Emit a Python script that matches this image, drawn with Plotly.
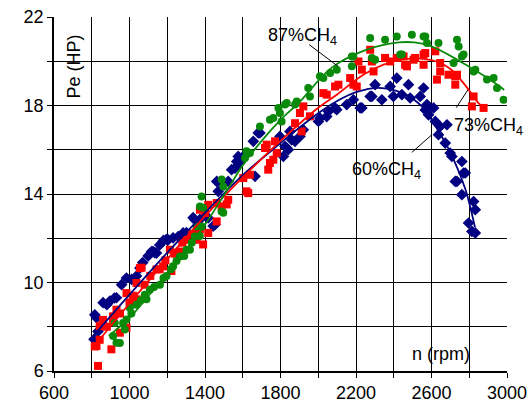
import plotly.graph_objects as go

# ---- data ----
blue_x = [812, 825, 816, 833, 860, 880, 896, 920, 931, 958, 984, 1011, 1037, 1055, 1070, 1099, 1117, 1134, 1143,
          1125, 1160, 1180, 1196, 1205, 1231, 1258, 1284, 1302, 1320, 1337, 1355, 1373, 1346, 1364, 1417, 1443,
          1453, 1462, 1470, 1488, 1523, 1541, 1559, 1568, 1576, 1585, 1603, 1656, 1665, 1682, 1691,
          1797, 1815, 1824, 1833, 1841, 1850, 1859, 1877, 1903, 1921, 2001, 2009, 2045, 2054, 2089,
          2098, 2151, 2186, 2222, 2231, 2275, 2284, 2301, 2337, 2381, 2398, 2416, 2443, 2478, 2487,
          2540, 2558, 2567, 2576, 2584, 2611, 2620, 2637, 2646, 2673, 2682, 2699, 2708, 2726, 2735,
          2761, 2761, 2770, 2779, 2796, 2814, 2823, 2832, 2832]
blue_y = [7.43, 8.41, 8.54, 7.79, 9.09, 9.00, 9.16, 9.30, 9.31, 9.90, 10.20, 10.14, 10.29, 10.65, 10.90, 11.20, 11.40, 11.35, 11.33,
          11.40, 11.70, 11.90, 11.95, 11.93, 12.02, 12.08, 12.24, 12.25, 12.16, 12.93, 12.31, 12.85, 12.84, 12.39, 12.92, 12.55,
          12.61, 14.57, 14.12, 14.50, 14.57, 15.10, 15.17, 15.47, 15.70, 15.40, 15.70, 16.38, 14.80, 16.76, 16.76,
          16.60, 15.70, 16.15, 16.08, 16.00, 16.83, 16.45, 16.38, 16.60, 16.90, 17.28, 17.43, 17.50, 17.73, 17.89,
          17.81, 18.04, 18.26, 17.89, 17.89, 18.41, 18.41, 18.94, 18.26, 18.86, 18.41, 19.24, 18.49, 18.94, 18.34,
          18.41, 18.79, 17.80, 18.04, 17.58, 17.89, 17.28, 16.68, 17.05, 16.30, 17.13, 15.85, 15.70, 14.57, 14.57,
          15.47, 13.97, 14.95, 14.95, 12.69, 12.31, 13.66, 13.29, 12.24]

red_x = [816, 825, 833, 842, 842, 860, 880, 904, 913, 913, 931, 949, 950, 984, 984, 1000, 1020, 1037, 1037, 1055,
         1064, 1080, 1110, 1143, 1160, 1178, 1190, 1214, 1222, 1240, 1249, 1267, 1280, 1302, 1330, 1355, 1373, 1373,
         1390, 1400, 1417, 1417, 1462, 1462, 1488, 1515, 1523, 1603, 1620, 1629, 1638, 1718, 1727, 1735, 1744, 1762,
         1771, 1780, 1877, 1903, 1912, 1921, 1956, 2027, 2045, 2089, 2107, 2169, 2186, 2204, 2213, 2231, 2275,
         2284, 2293, 2354, 2381, 2416, 2452, 2460, 2470, 2505, 2513, 2558, 2558, 2567, 2620, 2629,
         2646, 2646, 2690, 2726, 2726, 2735, 2814, 2823, 2876]
red_y = [7.11, 7.13, 6.23, 7.41, 8.03, 8.31, 8.00, 6.98, 8.47, 8.33, 8.77, 7.73, 8.60, 7.96, 9.52, 9.10, 9.40, 9.24, 9.98, 10.65,
         10.67, 9.90, 10.30, 10.59, 10.60, 10.73, 11.00, 11.48, 10.52, 11.30, 11.35, 11.40, 11.80, 11.93, 12.20, 11.93, 12.40, 13.29,
         11.72, 13.14, 13.51, 12.24, 13.59, 12.76, 13.44, 13.53, 13.74, 14.72, 14.12, 14.04, 14.87, 16.08, 16.23, 15.10, 15.40, 15.55,
         16.38, 15.85, 17.20, 17.66, 16.83, 17.96, 17.51, 18.56, 18.49, 18.86, 18.94, 19.24, 18.94, 18.86, 19.99, 19.62, 20.52,
         19.99, 19.54, 20.15, 19.99, 20.15, 20.22, 19.84, 19.77, 20.07, 20.15, 20.30, 19.84, 20.37, 20.45, 19.17,
         19.54, 19.92, 19.39, 19.32, 18.94, 19.39, 17.96, 18.41, 17.89]

green_x = [913, 922, 931, 949, 966, 975, 984, 1002, 1010, 1037, 1060, 1081, 1090, 1108, 1130, 1161, 1180, 1196,
           1220, 1231, 1249, 1267, 1290, 1302, 1320, 1330, 1346, 1355, 1373, 1373, 1382, 1382, 1390, 1488, 1488,
           1497, 1497, 1612, 1620, 1638, 1691, 1744, 1762, 1789, 1797, 1806, 1824, 1833, 1877, 1886, 1947, 1956, 2009,
           2027, 2063, 2098, 2178, 2178, 2186, 2275, 2284, 2301, 2354, 2416, 2434, 2443, 2496, 2558,
           2567, 2576, 2637, 2717, 2735, 2744, 2761, 2770, 2823, 2832, 2894, 2929, 2947, 2982]
green_y = [7.58, 8.17, 7.28, 7.26, 8.17, 7.88, 8.33, 8.85, 8.60, 9.00, 9.20, 9.45, 9.24, 9.67, 9.80, 9.90, 10.20, 10.29,
           10.60, 10.73, 10.97, 11.18, 11.20, 11.48, 11.48, 11.80, 12.08, 12.53, 12.10, 13.44, 13.89, 12.53, 13.38, 13.21, 14.65,
           14.34, 13.15, 15.63, 15.93, 15.85, 17.05, 17.36, 17.43, 17.89, 17.66, 17.28, 18.04, 18.11, 18.04, 18.18, 18.79, 18.41, 19.32,
           19.24, 19.47, 19.62, 20.22, 19.77, 20.22, 21.05, 20.15, 20.07, 20.97, 21.12, 20.30, 20.30, 21.20, 21.12,
           21.12, 20.82, 20.82, 19.92, 20.97, 20.67, 20.22, 20.30, 19.54, 19.62, 19.17, 19.24, 18.79, 18.26]

# fitted curves
blue_fit_x = [810, 1000, 1200, 1400, 1600, 1800, 1900, 2000, 2100, 2200, 2320, 2450, 2550, 2640, 2710, 2780, 2830]
blue_fit_y = [7.6, 9.45, 11.35, 13.15, 14.85, 16.3, 17.0, 17.65, 18.2, 18.6, 18.8, 18.55, 17.95, 16.8, 15.7, 14.2, 12.5]
red_fit_x = [830, 1000, 1200, 1400, 1600, 1800, 2000, 2100, 2250, 2425, 2600, 2700, 2780, 2850, 2885]
red_fit_y = [7.3, 9.05, 11.05, 13.0, 14.75, 16.4, 17.9, 18.5, 19.45, 20.05, 20.05, 19.65, 18.9, 18.1, 17.85]
green_fit_x = [890, 1000, 1200, 1390, 1530, 1600, 1700, 1800, 1900, 2070, 2250, 2425, 2510, 2600, 2780, 2955, 2985]
green_fit_y = [7.6, 8.4, 10.45, 12.5, 14.35, 15.3, 16.4, 17.35, 18.15, 19.7, 20.5, 20.85, 20.85, 20.67, 19.85, 18.9, 18.7]

x_ticks = [600, 800, 1000, 1200, 1400, 1600, 1800, 2000, 2200, 2400, 2600, 2800, 3000]
x_labels = ["600", "", "1000", "", "1400", "", "1800", "", "2200", "", "2600", "", "3000"]
y_ticks = [6, 8, 10, 12, 14, 16, 18, 20, 22]
y_labels = ["6", "", "10", "", "14", "", "18", "", "22"]

BLUE = "#000080"
RED = "#FF0000"
GREEN = "#0A8A0A"

fig = go.Figure()
fig.add_trace(go.Scatter(x=blue_x, y=blue_y, mode="markers",
                         marker=dict(symbol="diamond", size=9, color=BLUE), showlegend=False))
fig.add_trace(go.Scatter(x=red_x, y=red_y, mode="markers",
                         marker=dict(symbol="square", size=8, color=RED), showlegend=False))
fig.add_trace(go.Scatter(x=green_x, y=green_y, mode="markers",
                         marker=dict(symbol="circle", size=8, color=GREEN), showlegend=False))
fig.add_trace(go.Scatter(x=blue_fit_x, y=blue_fit_y, mode="lines", line_shape="spline",
                         line=dict(color=BLUE, width=1.8), showlegend=False))
fig.add_trace(go.Scatter(x=red_fit_x, y=red_fit_y, mode="lines", line_shape="spline",
                         line=dict(color=RED, width=1.8), showlegend=False))
fig.add_trace(go.Scatter(x=green_fit_x, y=green_fit_y, mode="lines", line_shape="spline",
                         line=dict(color=GREEN, width=1.8), showlegend=False))

FONT = "Liberation Sans, Arial, sans-serif"

annots = [
    dict(x=1914, y=21.1, text="87%CH<sub>4</sub>"),
    dict(x=2900, y=17.05, text="73%CH<sub>4</sub>"),
    dict(x=2364, y=15.05, text="60%CH<sub>4</sub>"),
    dict(x=2652, y=6.75, text="n (rpm)"),
]
for a in annots:
    fig.add_annotation(x=a["x"], y=a["y"], text=a["text"], showarrow=False,
                       font=dict(family=FONT, size=18, color="black"))
fig.add_annotation(x=705, y=19.75, text="Pe (HP)", textangle=-90, showarrow=False,
                   font=dict(family=FONT, size=18, color="black"))

# leader lines
for (x0, y0, x1, y1) in [(1952, 20.75, 2105, 19.77), (2731, 17.9, 2793, 18.71), (2496, 15.88, 2602, 16.68)]:
    fig.add_shape(type="line", x0=x0, y0=y0, x1=x1, y1=y1, line=dict(color="black", width=1))

fig.update_layout(
    width=530, height=406,
    margin=dict(l=54, r=23, t=17, b=35, autoexpand=False),
    paper_bgcolor="white", plot_bgcolor="white",
    font=dict(family=FONT, size=18, color="black"),
)
fig.update_xaxes(range=[600, 3000], tickvals=x_ticks, ticktext=x_labels,
                 showgrid=True, gridcolor="black", gridwidth=1,
                 showline=True, linecolor="black", linewidth=1.5,
                 ticks="outside", ticklen=5, tickcolor="black", zeroline=False,
                 tickfont=dict(size=18), automargin=False)
fig.update_yaxes(range=[6, 22], tickvals=y_ticks, ticktext=y_labels,
                 showgrid=True, gridcolor="black", gridwidth=1,
                 showline=True, linecolor="black", linewidth=1.5,
                 ticks="outside", ticklen=5, tickcolor="black", zeroline=False,
                 tickfont=dict(size=18), automargin=False)

fig.write_html("out.html", config={"displayModeBar": False},
               post_script="document.body.style.margin='0px';")
